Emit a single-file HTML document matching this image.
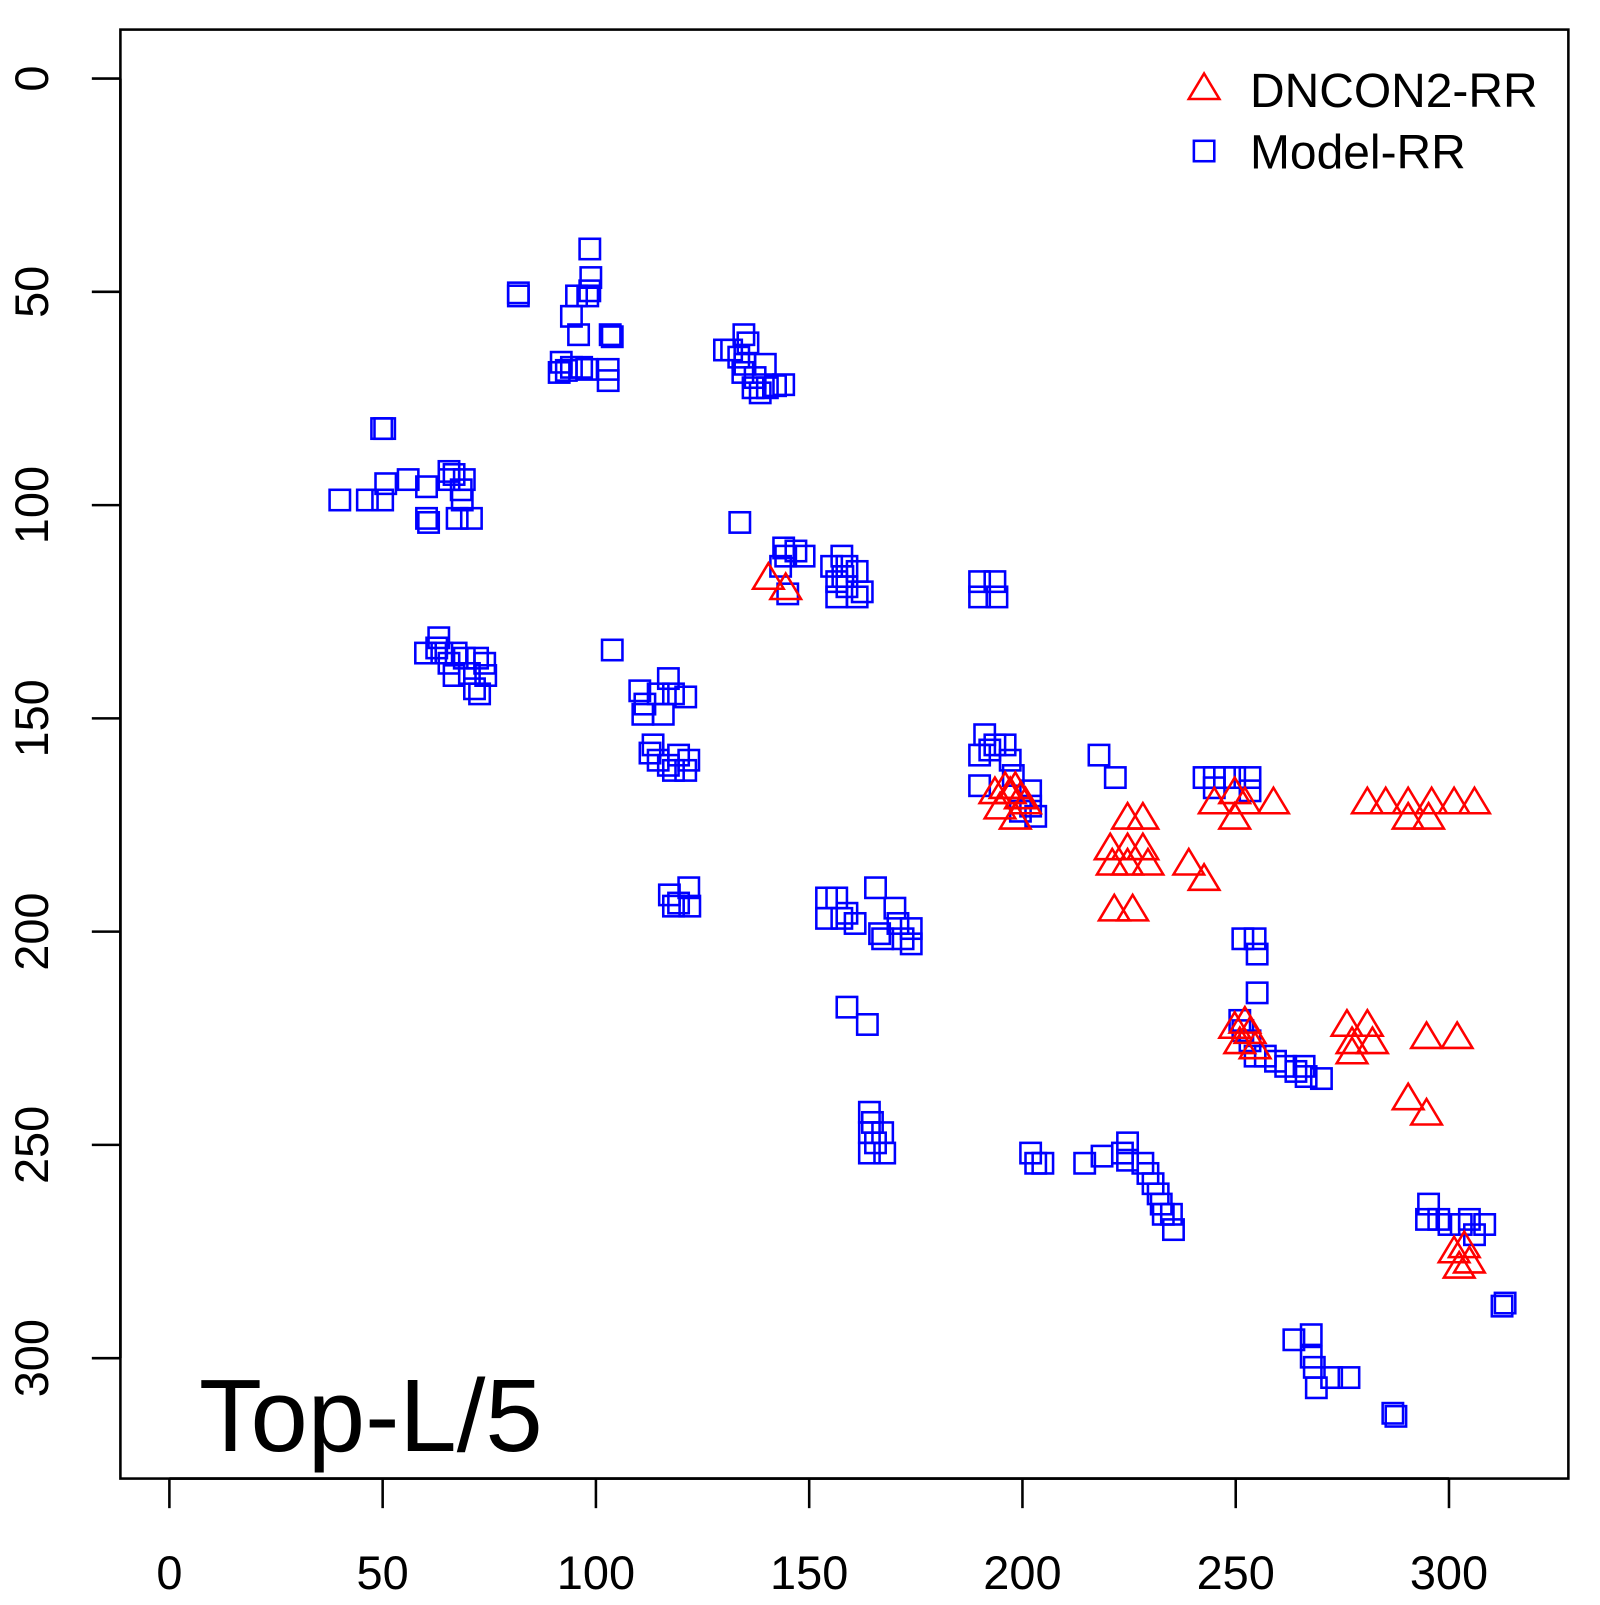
<!DOCTYPE html>
<html><head><meta charset="utf-8"><style>
html,body{margin:0;padding:0;background:#fff}
svg text{font-family:"Liberation Sans",Arial,sans-serif;fill:#000}
</style></head><body>
<svg id="s" width="1600" height="1600" viewBox="0 0 1568 1568" xmlns="http://www.w3.org/2000/svg">
<rect x="118" y="29" width="1419" height="1420" fill="none" stroke="#000" stroke-width="2.5"/>
<g stroke="#000" stroke-width="2.5">
<line x1="166" y1="1449" x2="1420" y2="1449"/>
<line x1="166" y1="1449" x2="166" y2="1478"/><line x1="375" y1="1449" x2="375" y2="1478"/>
<line x1="584" y1="1449" x2="584" y2="1478"/><line x1="793" y1="1449" x2="793" y2="1478"/>
<line x1="1002" y1="1449" x2="1002" y2="1478"/><line x1="1211" y1="1449" x2="1211" y2="1478"/>
<line x1="1420" y1="1449" x2="1420" y2="1478"/>
<line x1="118" y1="77" x2="118" y2="1331"/>
<line x1="90" y1="77" x2="118" y2="77"/><line x1="90" y1="286" x2="118" y2="286"/>
<line x1="90" y1="495" x2="118" y2="495"/><line x1="90" y1="704" x2="118" y2="704"/>
<line x1="90" y1="913" x2="118" y2="913"/><line x1="90" y1="1122" x2="118" y2="1122"/>
<line x1="90" y1="1331" x2="118" y2="1331"/>
</g>
<g font-size="46" text-anchor="middle">
<text x="166" y="1557">0</text><text x="375" y="1557">50</text><text x="584" y="1557">100</text>
<text x="793" y="1557">150</text><text x="1002" y="1557">200</text><text x="1211" y="1557">250</text>
<text x="1420" y="1557">300</text>
<text transform="translate(47,77) rotate(-90)">0</text>
<text transform="translate(47,286) rotate(-90)">50</text>
<text transform="translate(47,495) rotate(-90)">100</text>
<text transform="translate(47,704) rotate(-90)">150</text>
<text transform="translate(47,913) rotate(-90)">200</text>
<text transform="translate(47,1122) rotate(-90)">250</text>
<text transform="translate(47,1331) rotate(-90)">300</text>
</g>
<text x="195" y="1422" font-size="101">Top-L/5</text>
<text x="1225" y="105" font-size="47">DNCON2-RR</text>
<text x="1225" y="165" font-size="47">Model-RR</text>
<polygon points="1180,72 1195,97 1165,97" fill="none" stroke="#f00" stroke-width="2.5"/>
<rect x="1170" y="138" width="20" height="20" fill="none" stroke="#00f" stroke-width="2.5"/>
<g id="sq" fill="none" stroke="#00f" stroke-width="2.5"></g>
<g id="tr" fill="none" stroke="#f00" stroke-width="2.5"></g>
</svg>
<script>
var S=[[578,244],[579,272],[578,285],[576,290],[565,290],[560,310],[567,328],[508,287],[508,290],[598,328],[600,330],[596,362],[596,373],[550,355],[560,360],[570,360],[548,365],[575,362],[555,363],
[377,420],[374,420],[333,490],[360,490],[375,490],[378,474],[400,470],[418,477],[418,508],[420,512],[440,462],[445,465],[455,470],[452,480],[453,490],[448,508],[462,508],[440,470],
[729,328],[733,336],[717,343],[710,343],[724,350],[730,357],[728,365],[740,370],[750,357],[752,380],[760,378],[768,377],[745,385],[738,380],[725,512],
[768,537],[770,545],[780,540],[788,545],[765,555],[772,582],[815,555],[825,545],[830,555],[840,560],[820,570],[830,575],[845,580],[820,585],[840,585],[826,565],
[960,570],[975,570],[960,585],[977,585],
[417,640],[430,625],[433,640],[440,650],[447,640],[455,645],[460,660],[468,645],[475,650],[465,675],[470,680],[445,662],[476,662],[428,635],[600,637],
[627,677],[632,690],[645,680],[655,665],[660,680],[672,683],[630,700],[650,700],[637,738],[645,745],[655,750],[665,740],[675,745],[660,755],[672,755],[640,730],
[656,877],[665,885],[675,870],[660,888],[676,888],
[810,880],[820,880],[810,900],[825,900],[838,905],[858,870],[862,915],[865,920],[877,890],[880,905],[885,920],[893,910],[893,925],[830,895],
[830,987],[850,1004],[852,1090],[855,1100],[852,1110],[852,1130],[865,1110],[867,1130],[858,1120],
[965,720],[970,735],[975,730],[960,740],[985,730],[990,745],[993,760],[960,770],[1010,775],[1010,790],[1000,795],[1015,800],
[1077,740],[1093,762],[1180,762],[1190,762],[1200,762],[1210,762],[1225,762],[1190,772],[1225,775],
[1218,920],[1230,920],[1232,935],[1232,973],
[1215,1000],[1218,1010],[1225,1020],[1230,1035],[1240,1035],[1250,1040],[1260,1045],[1270,1050],[1280,1055],[1295,1057],[1278,1045],
[1010,1130],[1015,1140],[1022,1140],[1063,1140],[1080,1133],[1105,1120],[1105,1137],[1120,1140],[1125,1150],[1130,1160],[1135,1170],[1138,1180],[1140,1190],[1148,1190],[1150,1205],[1100,1130],
[1400,1180],[1398,1195],[1410,1195],[1420,1200],[1432,1200],[1440,1195],[1455,1200],[1445,1210],
[1475,1277],[1472,1280],
[1268,1313],[1285,1308],[1285,1330],[1288,1340],[1290,1360],[1305,1350],[1322,1350],[1365,1385],[1368,1388]];
var T=[[753,565],[770,575],
[975,775],[985,770],[995,770],[1000,780],[995,800],[980,790],[1005,785],[990,775],
[1088,830],[1105,800],[1120,800],[1105,830],[1120,830],[1090,845],[1105,845],[1125,845],[1092,890],[1110,890],[1165,845],[1180,860],
[1190,785],[1210,775],[1210,800],[1220,785],[1248,785],[1340,785],[1358,785],[1380,785],[1403,785],[1425,785],[1445,785],[1380,800],[1400,800],
[1210,1005],[1220,1000],[1225,1010],[1215,1020],[1230,1025],[1320,1003],[1340,1003],[1325,1020],[1345,1020],[1325,1030],[1398,1015],[1428,1015],[1380,1075],[1398,1090],
[1425,1225],[1435,1220],[1440,1235],[1430,1240]];
var ns="http://www.w3.org/2000/svg",g=document.getElementById("sq"),h=document.getElementById("tr");
S.forEach(function(p){var r=document.createElementNS(ns,"rect");r.setAttribute("x",p[0]-10);r.setAttribute("y",p[1]-10);r.setAttribute("width",20);r.setAttribute("height",20);g.appendChild(r);});
T.forEach(function(p){var r=document.createElementNS(ns,"polygon");var x=p[0],y=p[1];r.setAttribute("points",x+","+(y-13)+" "+(x+15)+","+(y+12)+" "+(x-15)+","+(y+12));h.appendChild(r);});
</script>
</body></html>
